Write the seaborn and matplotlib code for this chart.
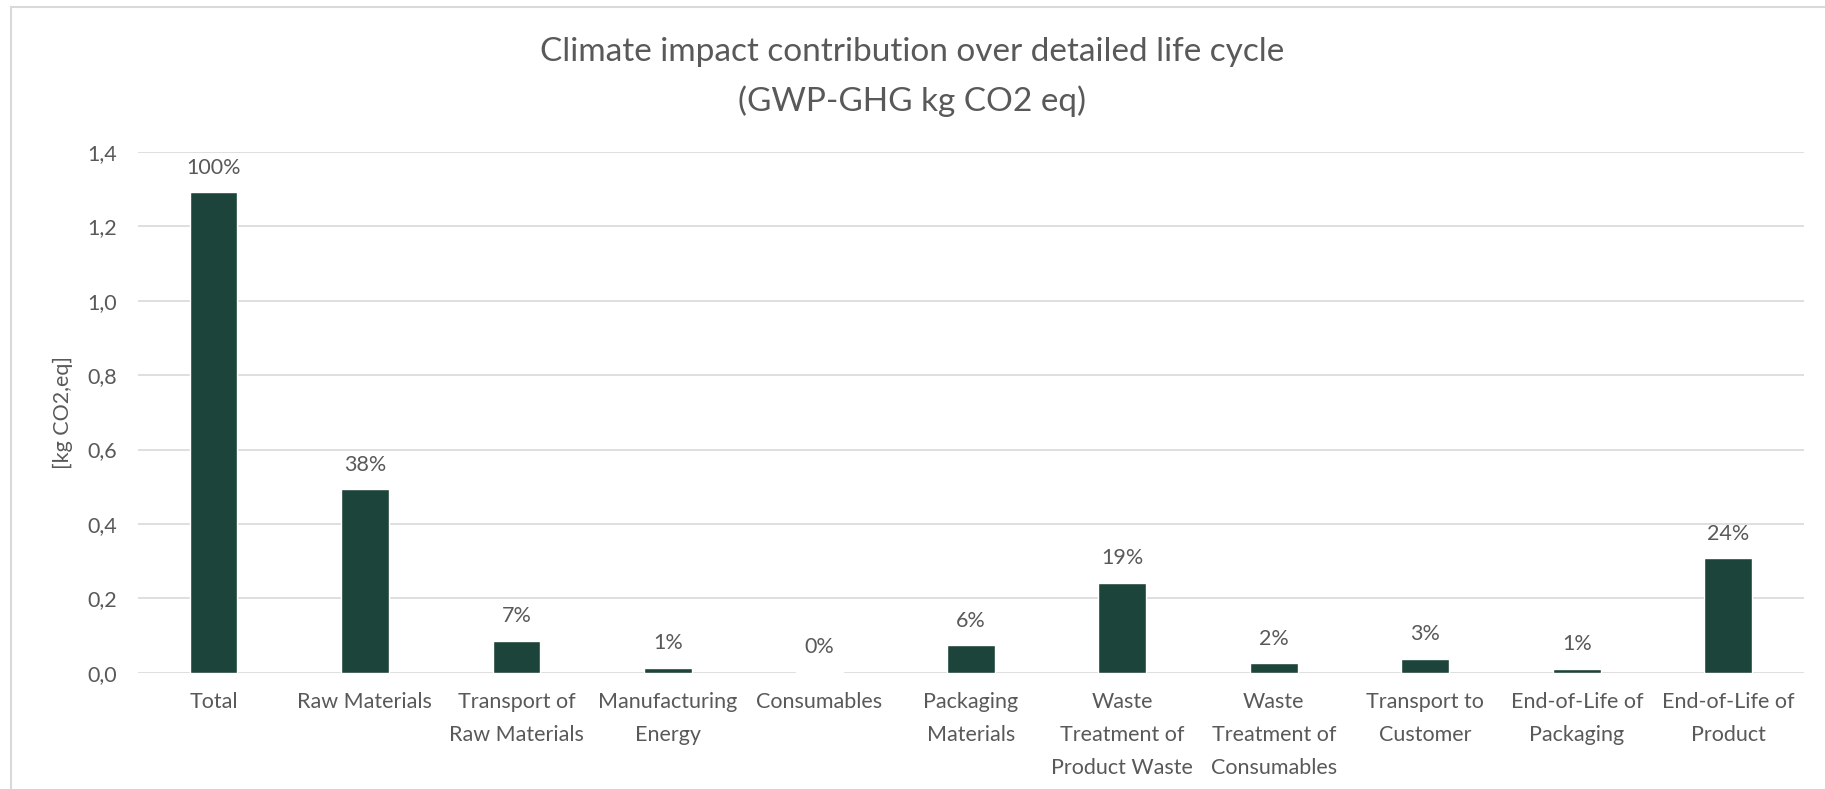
import matplotlib
matplotlib.use("Agg")
import matplotlib.pyplot as plt
from matplotlib.patches import Rectangle
from matplotlib.ticker import FuncFormatter, MultipleLocator
import pandas as pd
import seaborn as sns

# Life-cycle stages and their climate impact (kg CO2 eq)
stages = [
    "Total", "Raw Materials", "Transport of Raw Materials", "Manufacturing Energy",
    "Consumables", "Packaging Materials", "Waste Treatment of Product Waste",
    "Waste Treatment of Consumables", "Transport to Customer",
    "End-of-Life of Packaging", "End-of-Life of Product",
]
tick_labels = [
    "Total", "Raw Materials", "Transport of\nRaw Materials", "Manufacturing\nEnergy",
    "Consumables", "Packaging\nMaterials", "Waste\nTreatment of\nProduct Waste",
    "Waste\nTreatment of\nConsumables", "Transport to\nCustomer",
    "End-of-Life of\nPackaging", "End-of-Life of\nProduct",
]
impact = [1.292, 0.493, 0.085, 0.0126, 0.002, 0.0737, 0.242, 0.0253, 0.0368, 0.0108, 0.3076]

title_text = "Climate impact contribution over detailed life cycle\n(GWP-GHG kg CO2 eq)"
y_label = "[kg CO2,eq]"

BAR = "#1D443A"
TEXT = "#595959"
GRID = "#D9D9D9"
FS = 15.5

sns.set_theme(style="white")
plt.rcParams["font.family"] = ["Lato", "DejaVu Sans"]

df = pd.DataFrame({"stage": stages, "impact": impact})
share = [round(v / impact[0] * 100) for v in impact]

W, H = 1825, 789
fig = plt.figure(figsize=(W / 100, H / 100), dpi=100)
fig.patch.set_facecolor("white")
left, right, top, bottom = 137.7, 1804, 152, 672.7
ax = fig.add_axes([left / W, 1 - bottom / H, (right - left) / W, (bottom - top) / H])

sns.barplot(data=df, x="stage", y="impact", color=BAR, saturation=1,
            width=0.315, ax=ax, zorder=3)

ax.set_ylim(0, 1.4)
ax.set_xlim(-0.5, len(stages) - 0.5)
ax.yaxis.set_major_locator(MultipleLocator(0.2))
ax.yaxis.set_major_formatter(FuncFormatter(lambda v, _: f"{v:.1f}".replace(".", ",")))
ax.grid(axis="y", color=GRID, linewidth=1.2, zorder=0)
ax.grid(axis="x", visible=False)
for s in ax.spines.values():
    s.set_visible(False)

ax.set_xticks(range(len(stages)))
ax.set_xticklabels(tick_labels, linespacing=1.82)
ax.tick_params(axis="x", length=0, pad=14, labelsize=FS, labelcolor=TEXT)
ax.tick_params(axis="y", length=0, pad=15, labelsize=FS, labelcolor=TEXT)
ax.set_xlabel("")
ax.set_ylabel(y_label, fontsize=FS, color=TEXT)
ax.yaxis.set_label_coords(-0.039, 0.5)

for bar, pct in zip(ax.patches, share):
    x = bar.get_x() + bar.get_width() / 2
    ax.annotate(f"{pct}%", (x, bar.get_height()), xytext=(0, 13.4),
                textcoords="offset points", ha="center", va="baseline",
                fontsize=FS, color=TEXT)

fig.text(0.5, 1 - 76.7 / H, title_text, ha="center", va="center",
         fontsize=24, color=TEXT, linespacing=1.72)

# light frame around the chart area
fig.patches.append(Rectangle((11 / W, -0.1), 2, 1 - 7 / H + 0.1,
                             transform=fig.transFigure, fill=False,
                             edgecolor=GRID, linewidth=1.5))

fig.savefig("out.png", dpi=100, facecolor="white")
